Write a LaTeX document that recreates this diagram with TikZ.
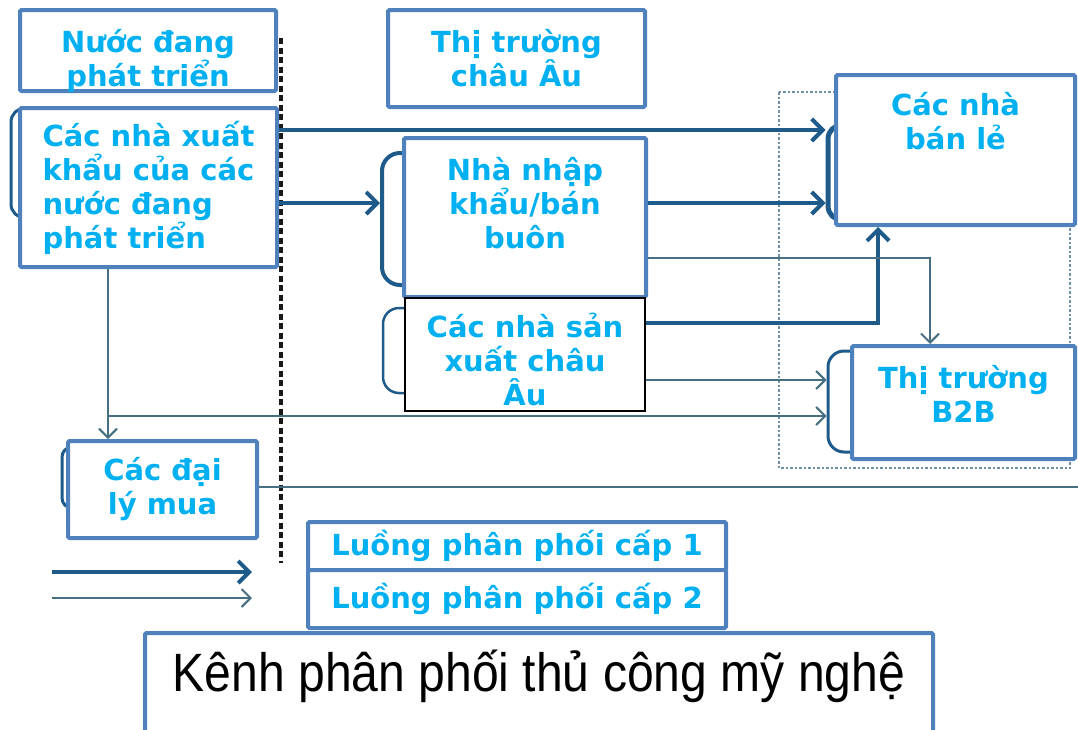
\documentclass[tikz,border=0pt]{standalone}
\usepackage{fontspec}
\usepackage{graphicx}
\usetikzlibrary{arrows.meta}
\newfontfamily\boxfont{DejaVu Sans}
\newfontfamily\titlefont{Liberation Sans}
\definecolor{boxblue}{HTML}{4F81BD}
\definecolor{txtcyan}{HTML}{00B0F0}
\definecolor{deepblue}{HTML}{1F5B8A}
\definecolor{thinline}{HTML}{466F82}
\definecolor{dotgray}{HTML}{7090A8}
\tikzset{
  box/.style={draw=boxblue, line width=4pt, fill=white, rounded corners=1.5pt,
    text=txtcyan, font=\boxfont\bfseries\fontsize{29}{34}\selectfont, align=center,
    inner sep=0pt},
  brk/.style={draw=deepblue, line width=3pt, rounded corners=14pt, inner sep=0pt},
  lvl1/.style={draw=deepblue, line width=4pt, -{Straight Barb[length=11pt,width=22pt]}},
  lvl2/.style={draw=thinline, line width=2pt, -{Straight Barb[length=9pt,width=18pt]}}
}
\begin{document}
\begin{tikzpicture}[x=1pt, y=-1pt]
    \useasboundingbox[fill=white] (0,0) rectangle (1078,729);

    % Dotted frame round the retail side
    \draw[dotgray, line width=2.5pt, dotted] (779,92) rectangle (1070,468);

    % Dashed border between the two regions
    \draw[black!90, line width=3.5pt, dash pattern=on 6pt off 3.5pt] (281,38) -- (281,563);

    % Rows of the flows
    \coordinate (r1) at (0,130);
    \coordinate (r2) at (0,203);
    \coordinate (r3) at (0,258);
    \coordinate (r4) at (0,323);
    \coordinate (r5) at (0,380);
    \coordinate (r6) at (0,416);
    \coordinate (r7) at (0,487);
    \coordinate (vx) at (108,0);
    \coordinate (rim) at (1078,487);

    % Brackets behind the boxes
    \node[brk, minimum width=49, minimum height=110] (expbr) at (35.5,163) {};
    \node[brk, line width=4pt, rounded corners=18pt, minimum width=48, minimum height=132] (impbr) at (406,219) {};
    \node[brk, line width=2.5pt, rounded corners=16pt, minimum width=47, minimum height=85] (prodbr) at (406.5,350.5) {};
    \node[brk, line width=5pt, minimum width=42, minimum height=95] (retbr) at (849,172.5) {};
    \node[brk, rounded corners=16pt, minimum width=52, minimum height=101] (b2bbr) at (854,401.5) {};
    \node[brk, rounded corners=10pt, minimum width=38, minimum height=61] (agtbr) at (81,477.5) {};

    % Boxes
    \node[box, text height=76pt, text depth=5pt, minimum width=256, minimum height=81] (dev) at (148,50.5) {Nước đang\\phát triển};
    \node[box, minimum width=257, minimum height=97] (eu) at (516.5,58.5) {Thị trường\\châu Âu};
    \node[box, align=left, minimum width=257, minimum height=159] (exp) at (148.5,187.5) {Các nhà xuất\\khẩu của các\\nước đang\\phát triển};
    \node[box, text depth=30pt, minimum width=242, minimum height=159] (imp) at (525,217.5) {Nhà nhập\\khẩu/bán\\buôn};
    \node[box, text height=103pt, draw=black, line width=2pt, rounded corners=0pt, minimum width=240, minimum height=113] (prod) at (525,354.5) {Các nhà sản\\xuất châu\\Âu};
    \node[box, text depth=58pt, minimum width=239, minimum height=150] (ret) at (955.5,150) {Các nhà\\bán lẻ};
    \node[box, text depth=18pt, minimum width=223, minimum height=113] (b2b) at (963.5,402.5) {Thị trường\\B2B};
    \node[box, minimum width=189, minimum height=97] (agt) at (162.5,489.5) {Các đại\\lý mua};

    % First level flows
    \draw[lvl1] (exp.east |- r1) -- (retbr.west |- r1);
    \draw[lvl1] (exp.east |- r2) -- (impbr.west |- r2);
    \draw[lvl1] (imp.east |- r2) -- (retbr.west |- r2);
    \draw[lvl1] (prod.east |- r4) -| ([xshift=-77.5pt]ret.south);

    % Second level flows
    \draw[lvl2] (imp.east |- r3) -| ([xshift=-33.5pt]b2b.north);
    \draw[lvl2] (prod.east |- r5) -- (b2bbr.west |- r5);
    \draw[lvl2] (exp.south -| vx) -- (agt.north -| vx);
    \draw[lvl2] (vx |- r6) -- (b2bbr.west |- r6);
    \draw[thinline, line width=2pt] (agt.east |- r7) -- (rim);

    % Legend
    \coordinate (k1a) at (52,572);
    \coordinate (k1b) at (252,572);
    \coordinate (k2a) at (52,598);
    \coordinate (k2b) at (252,598);
    \draw[lvl1] (k1a) -- (k1b);
    \draw[lvl2] (k2a) -- (k2b);
    \node[box, minimum width=418, minimum height=48] (leg1) at (517,546) {Luồng phân phối cấp 1};
    \node[box, minimum width=418, minimum height=58] (leg2) at (517,599) {Luồng phân phối cấp 2};

    % Title
    \node[box, text=black, text depth=27pt, font=\titlefont\fontsize{54}{60}\selectfont, minimum width=788, minimum height=102] (title) at (539,684) {\scalebox{0.89}[1]{Kênh phân phối thủ công mỹ nghệ}};
\end{tikzpicture}
\end{document}
